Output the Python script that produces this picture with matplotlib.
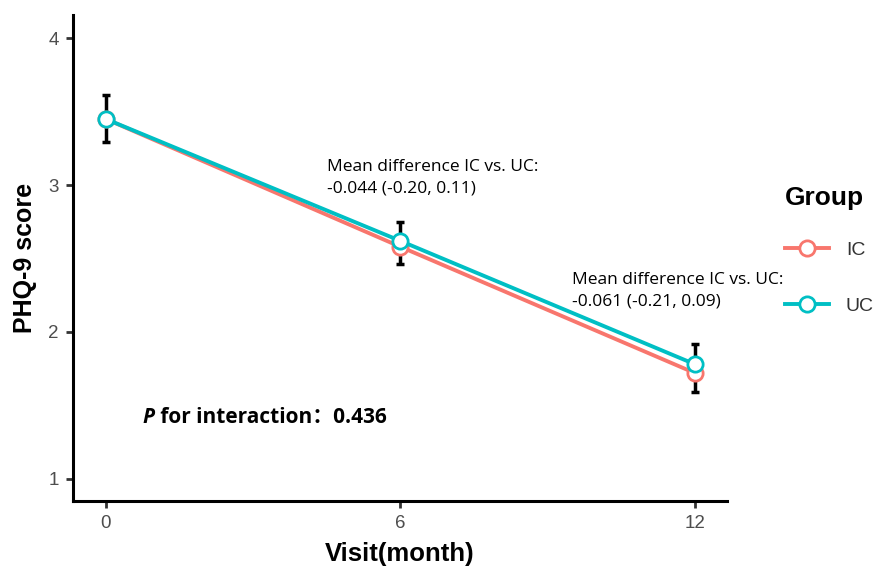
import matplotlib.pyplot as plt

# data
visits = [0, 6, 12]
ic_mean = [3.45, 2.58, 1.72]
uc_mean = [3.45, 2.62, 1.78]
err_low = [3.29, 2.46, 1.59]
err_high = [3.61, 2.75, 1.92]

ic_color = "#F8766D"
uc_color = "#00BFC4"

fig = plt.figure(figsize=(8.78, 5.66), dpi=100)
ax = fig.add_axes([0.083, 0.115, 0.745, 0.858])

# single error bar per visit, drawn under the lines
mid = [(lo + hi) / 2 for lo, hi in zip(err_low, err_high)]
yerr = [[m - lo for m, lo in zip(mid, err_low)], [hi - m for m, hi in zip(mid, err_high)]]
ax.errorbar(visits, mid, yerr=yerr, fmt="none", ecolor="black", elinewidth=2.5,
            capsize=3, capthick=2.5, zorder=1)

ax.plot(visits, ic_mean, color=ic_color, lw=2.8, marker="o", ms=11, mfc="white",
        mec=ic_color, mew=2, label="IC", zorder=2)
ax.plot(visits, uc_mean, color=uc_color, lw=2.8, marker="o", ms=11, mfc="white",
        mec=uc_color, mew=2, label="UC", zorder=3)

ax.set_xlim(-0.67, 12.65)
ax.set_ylim(0.85, 4.156)
ax.set_xticks([0, 6, 12])
ax.set_yticks([1, 2, 3, 4])
for s in ["top", "right"]:
    ax.spines[s].set_visible(False)
for s in ["left", "bottom"]:
    ax.spines[s].set_linewidth(2.2)
ax.tick_params(width=2, length=5, pad=5, labelsize=13.5, labelcolor="#4d4d4d",
               colors="#333333")
for lab in ax.get_xticklabels() + ax.get_yticklabels():
    lab.set_family("Liberation Sans")

ax.set_xlabel("Visit(month)", fontsize=18.5, fontweight="bold", family="Liberation Sans", labelpad=7)
ax.set_ylabel("PHQ-9 score", fontsize=18, fontweight="bold", family="Liberation Sans", labelpad=8)

ax.text(4.5, 3.05, "Mean difference IC vs. UC:\n-0.044 (-0.20, 0.11)", fontsize=12.5,
        family="Open Sans", va="center", ha="left", linespacing=1.45)
ax.text(9.5, 2.28, "Mean difference IC vs. UC:\n-0.061 (-0.21, 0.09)", fontsize=12.5,
        family="Open Sans", va="center", ha="left", linespacing=1.4)

p_txt = ax.text(0.75, 1.42, "P", fontsize=15, fontweight="bold", fontstyle="italic",
                family="Open Sans", va="center", ha="left")
ax.annotate(" for interaction：0.436", xy=(1, 0), xycoords=p_txt, va="bottom", ha="left",
            fontsize=15, fontweight="bold", family=["Open Sans", "Noto Sans CJK SC"])

leg = fig.legend(loc="upper left", bbox_to_anchor=(0.8736, 0.703), frameon=False,
                 title="Group", fontsize=14, handlelength=2.3, labelspacing=1.95,
                 handletextpad=0.85)
leg.get_title().set_fontweight("bold")
leg.get_title().set_fontsize(19)
leg.get_title().set_family("Liberation Sans")
leg._legend_box.align = "left"
leg._legend_box.sep = 23  # tighter gap between title and entries
for t in leg.get_texts():
    t.set_family("Liberation Sans")
    t.set_color("#333333")

fig.savefig("out.png", dpi=100)
